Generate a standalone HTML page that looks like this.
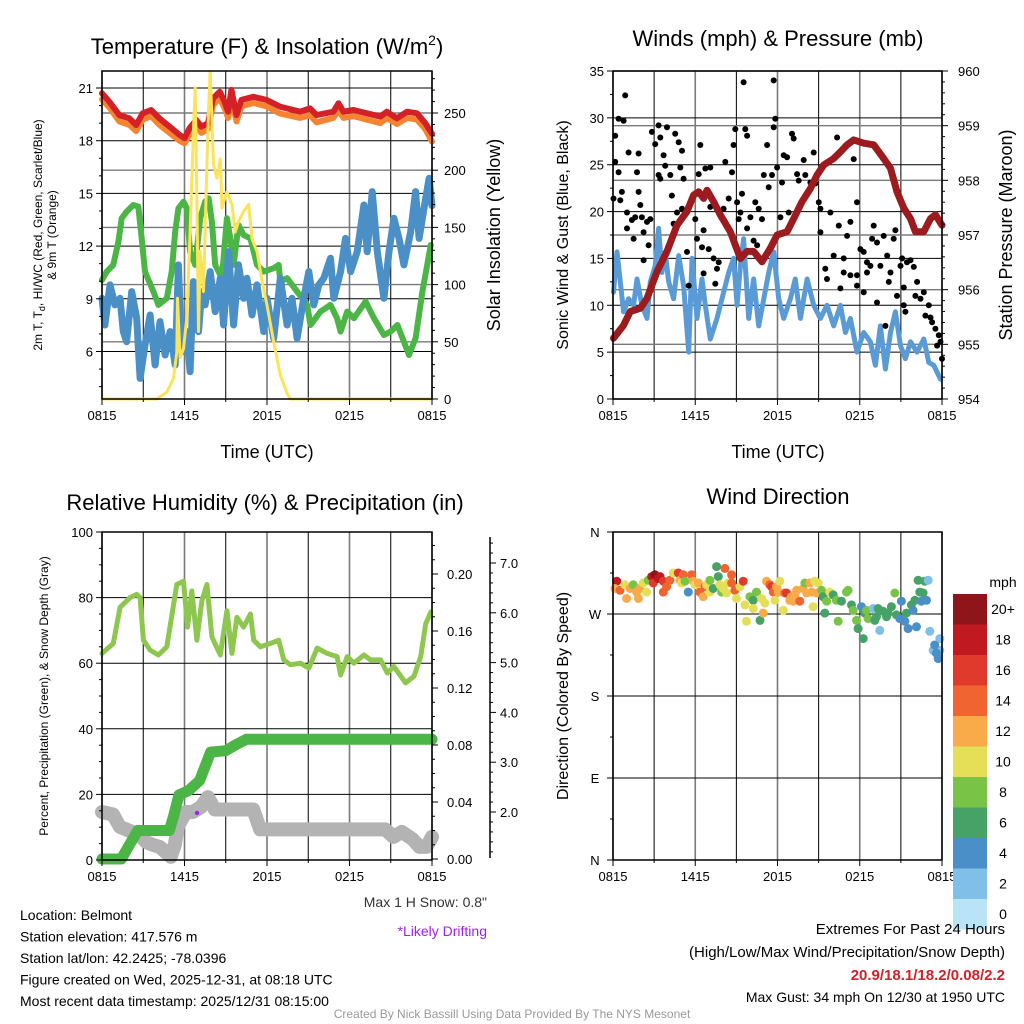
<!DOCTYPE html>
<html><head><meta charset="utf-8"><style>
html,body{margin:0;padding:0;background:#fff;}
svg{display:block;font-family:"Liberation Sans",sans-serif;}
</style></head><body>
<svg id="s" width="1024" height="1024" viewBox="0 0 1024 1024">
<rect width="1024" height="1024" fill="#fff"/>
<g id="g"></g>
</svg>
<script>
// ---------- Panel 1 data ----------
const tRedH=[0,0.53,1.26,1.99,2.48,2.96,3.57,4.18,4.91,5.64,6.0,6.37,6.86,7.22,7.71,8.07,8.56,8.92,9.17,9.41,9.78,10.14,11.0,11.97,12.94,14.4,15.13,15.61,16.83,17.2,17.56,18.29,19.26,20.24,20.72,21.45,22.18,22.91,23.52,24];
const tRed=[20.7,20.22,19.46,19.27,18.89,19.56,19.75,19.27,18.8,18.33,18.14,18.71,19.18,18.8,18.99,20.41,20.79,20.22,19.65,20.89,19.46,20.32,20.5,20.32,19.94,19.65,19.84,19.46,19.65,20.13,19.65,19.75,19.56,19.37,19.65,19.27,19.65,19.56,18.99,18.4];
const tOrange=[20.35,19.9,19.1,18.9,18.55,19.2,19.4,18.9,18.45,18.0,17.85,18.35,18.8,18.45,18.65,20.05,20.4,19.85,19.3,20.5,19.1,19.95,20.15,19.95,19.55,19.3,19.45,19.05,19.3,19.75,19.3,19.4,19.2,19.0,19.3,18.95,19.3,19.2,18.65,17.95];
const tGreenH=[0,0.34,0.82,1.19,1.43,1.79,2.28,2.64,2.89,3.13,3.74,4.1,4.71,5.07,5.32,5.56,5.93,6.17,6.41,6.78,7.14,7.5,7.75,7.99,8.23,8.72,9.08,9.33,9.57,9.93,10.3,10.79,11.27,11.76,12.49,12.85,12.97,13.46,14.19,14.92,15.16,15.89,16.62,17.1,17.35,17.83,18.32,19.17,19.78,20.5,20.99,21.48,21.96,22.33,22.81,23.3,23.91];
const tGreen=[10.07,10.55,10.93,12.25,13.58,13.96,14.34,14.25,12.44,10.55,9.41,8.65,9.03,10.55,12.82,14.15,14.53,14.15,11.68,10.93,13.58,14.53,14.72,13.39,10.93,10.17,13.58,12.44,10.93,13.2,12.63,12.44,10.93,10.55,10.74,10.93,9.98,10.17,9.41,8.65,7.51,8.27,8.65,7.89,7.13,8.27,7.89,8.84,7.89,6.94,7.13,7.51,6.56,5.8,6.75,9.41,12.06];
const tBlueH=[0,0.21,0.58,0.94,1.31,1.55,1.79,2.16,2.52,2.77,3.13,3.5,3.86,4.22,4.59,4.95,5.32,5.56,5.8,6.17,6.41,6.65,7.02,7.26,7.5,7.87,8.23,8.6,8.84,9.21,9.57,9.93,10.3,10.54,10.91,11.27,11.76,12.0,12.49,12.97,13.46,13.82,14.19,14.67,15.04,15.4,15.77,16.13,16.62,16.86,17.35,17.71,18.08,18.56,19.05,19.29,19.65,20.02,20.5,20.87,21.23,21.6,21.96,22.45,22.81,23.06,23.42,23.79,24];
const tBlue=[9.03,7.51,9.79,8.65,9.03,7.13,6.56,9.41,7.89,4.47,6.37,8.08,5.23,7.7,5.8,7.13,5.23,10.93,5.99,7.13,4.85,9.98,7.13,9.41,8.65,10.55,8.27,10.17,7.51,11.68,7.51,10.93,9.03,10.17,8.08,9.79,7.13,9.03,6.75,10.17,7.51,9.03,6.75,9.03,10.55,8.65,9.79,10.17,11.31,9.03,10.55,12.44,10.55,11.68,14.34,11.68,15.1,11.68,9.03,11.68,13.58,12.44,10.93,12.82,15.1,12.44,14.15,15.86,14.3];
const solarH=[0,3.98,4.71,5.2,5.44,5.49,5.68,5.93,6.17,6.41,6.65,6.78,6.9,7.02,7.14,7.38,7.63,7.75,7.87,8.11,8.36,8.6,8.72,9.08,9.45,9.69,9.93,10.3,10.66,10.91,11.27,11.64,12.0,12.49,12.97,13.46,13.7,24];
const solar=[0,0,6,18,41,88,36,44,71,146,234,272,175,59,129,94,205,254,286,205,193,210,167,181,170,146,155,164,170,140,129,103,82,50,21,5,0,0];
const timeTicks=["0815","1415","2015","0215","0815"];
const tempTicks=[6,9,12,15,18,21];
const solarTicks=[0,50,100,150,200,250];
// ---------- Panel 2 data ----------
const presH=[0.04,0.77,1.26,1.99,2.48,3.21,3.94,4.67,5.4,5.88,6.25,6.61,6.86,7.34,7.83,8.56,9.29,9.78,10.26,10.87,11.48,11.97,12.7,13.18,13.79,14.4,14.89,15.37,16.1,16.59,17.08,17.56,18.29,19.02,19.75,20.24,20.72,21.21,21.7,22.06,22.67,23.16,23.52,24];
const pres=[955.11,955.35,955.6,955.66,955.84,956.33,956.7,957.18,957.43,957.73,957.79,957.67,957.82,957.61,957.37,957.06,956.57,956.7,956.7,956.51,956.76,957.0,957.06,957.3,957.61,957.85,958.1,958.28,958.4,958.52,958.65,958.74,958.68,958.65,958.4,958.22,957.79,957.49,957.3,957.06,957.06,957.3,957.37,957.18];
const windH=[0.04,0.29,0.53,0.77,1.14,1.5,1.75,2.11,2.48,2.72,3.08,3.33,3.57,3.81,4.06,4.42,4.79,5.15,5.52,5.76,6.13,6.49,6.73,7.1,7.59,7.95,8.44,8.8,9.05,9.29,9.53,9.9,10.26,10.63,11.0,11.36,11.72,12.09,12.45,12.94,13.3,13.67,14.16,14.64,15.13,15.61,16.1,16.59,16.95,17.32,17.8,18.29,18.78,19.14,19.51,19.87,20.24,20.6,20.97,21.33,21.7,22.18,22.67,23.04,23.4,23.89];
const wind=[11.4,15.7,12.5,9.3,10.7,10.0,12.8,10.0,8.6,12.5,14.2,18.2,13.5,15.7,12.5,10.7,15.3,12.1,5.0,15.0,8.6,12.8,10.0,6.4,8.6,10.7,13.5,15.0,10.0,14.2,17.1,8.6,12.8,7.8,10.7,13.5,15.7,10.7,8.6,10.7,12.8,8.6,12.8,10.0,8.6,10.0,7.8,10.0,7.1,8.6,5.0,7.1,6.1,3.6,7.8,3.2,7.1,9.3,5.7,4.3,6.1,5.0,6.4,3.9,3.6,2.1];
const gustH=[0.04,0.16,0.41,0.16,0.41,0.77,0.89,1.14,0.65,0.53,1.02,1.02,1.38,1.5,1.62,1.87,1.99,1.87,1.75,2.11,2.23,2.48,2.72,2.23,2.6,2.84,3.08,3.33,3.45,3.69,3.81,3.94,4.18,4.3,4.54,4.79,4.91,5.03,3.45,3.33,4.67,4.42,5.15,5.03,5.4,5.52,5.64,6.0,6.13,6.37,6.25,6.73,7.1,6.61,6.98,6.49,6.61,7.1,7.34,7.59,7.71,7.46,8.07,8.19,8.44,8.68,8.8,8.92,9.05,9.29,9.17,9.53,9.65,9.78,9.41,9.78,10.02,10.26,10.38,10.51,10.63,10.87,11.0,11.24,11.36,11.6,11.72,11.84,11.72,11.97,12.21,12.33,12.45,12.7,12.82,13.06,13.18,13.43,13.55,13.91,14.03,14.4,14.64,14.76,15.01,15.13,15.49,15.86,16.1,16.35,16.47,16.59,16.83,17.08,17.32,17.56,17.8,18.05,18.29,18.53,18.78,18.9,19.02,19.26,19.51,19.75,20.0,20.12,20.24,20.48,20.6,20.72,20.97,21.09,21.21,21.45,21.7,21.94,22.06,22.18,22.43,22.67,22.79,23.04,23.16,23.28,23.52,23.64,23.77,23.89,24.0,19.87,21.21,21.33,17.32,17.8,18.53,15.61,16.83,18.29,19.26,15.13,17.8];
const gust=[21.4,28.1,29.9,25.3,24.2,29.7,32.4,26.3,22.1,21.2,19.9,18.2,19.1,17.1,19.4,22.1,20.7,26.2,24.2,19.4,17.8,18.9,19.2,14.8,16.4,28.5,27.2,29.2,27.9,26.0,24.9,29.0,23.9,21.7,28.3,27.4,24.7,26.5,23.5,23.9,19.9,18.7,23.5,20.3,15.7,12.1,21.0,19.2,17.1,27.1,24.0,24.6,24.7,18.0,16.0,16.2,13.4,20.5,15.0,13.9,14.6,12.3,20.3,25.3,21.4,24.2,27.1,28.8,21.0,19.9,19.2,33.8,28.8,28.1,21.9,18.2,19.4,16.9,21.0,16.4,20.3,19.2,23.9,27.1,22.6,23.9,29.0,29.9,34.0,24.7,19.4,23.1,26.0,25.8,19.9,28.3,27.8,24.0,23.3,25.5,23.9,23.1,26.3,23.0,21.0,20.3,13.9,19.9,15.3,27.9,18.5,11.8,15.0,17.4,18.9,25.6,21.0,16.0,15.7,14.6,14.2,17.1,18.5,16.7,14.2,17.4,15.3,12.5,13.5,17.1,18.0,11.0,14.2,15.0,11.9,14.6,14.8,14.1,11.0,12.5,10.7,11.4,8.9,10.0,8.7,8.2,7.5,5.7,6.8,6.1,4.3,7.8,10.0,9.3,13.2,13.2,13.5,12.8,13.5,11.4,10.3,17.8,12.1];
const windTicks=[0,5,10,15,20,25,30,35];
const presTicks=[954,955,956,957,958,959,960];
// ---------- Panel 3 data ----------
const rhH=[0,0.82,1.31,2.04,2.52,2.77,3.01,3.5,4.1,4.71,5.44,5.93,6.22,6.53,6.9,7.26,7.63,7.99,8.6,9.08,9.45,9.81,10.3,10.79,11.03,11.51,12.24,12.85,13.22,13.7,14.43,15.04,15.65,16.37,17.1,17.35,17.83,18.32,19.05,19.53,20.26,20.75,21.23,22.08,22.69,23.18,23.54,23.91];
const rh=[63,66,77,80,81,80,67,64,62.5,65,84,85,71,82,67,79,84,68,62.5,76,63,74,71,75,67,65,66,67,61,59.5,60,58.5,64.6,63,62,56.4,62,60,62.5,61,61,57,59,54,56,62,72,75.6];
const precipH=[0,1.4,2.0,2.6,4.9,5.2,5.6,6.3,7.1,7.5,7.9,9.0,9.7,10.5,24];
const precip=[0,0,0.01,0.02,0.02,0.03,0.045,0.048,0.055,0.065,0.075,0.076,0.08,0.084,0.084];
const snowH=[0,0.8,1.3,2.2,2.7,3.2,3.6,4.2,5.0,5.3,5.5,6.1,6.6,7.2,7.7,8.2,11.0,11.5,20.6,21.2,21.8,22.6,23.1,23.6,24.0];
const snow=[2.0,1.95,1.7,1.6,1.55,1.4,1.35,1.3,1.1,1.35,1.7,2.0,2.0,2.1,2.3,2.05,2.05,1.65,1.65,1.5,1.6,1.45,1.3,1.3,1.5];
const rhTicks=[0,20,40,60,80,100];
const precipTicks=["0.00","0.04","0.08","0.12","0.16","0.20"];
const snowTicks=["2.0","3.0","4.0","5.0","6.0","7.0"];
// ---------- Panel 4 data ----------
const dirH=[0.27,0.14,0.51,0.87,0.99,1.24,1.48,1.72,1.85,1.97,2.21,2.45,2.57,2.82,2.94,3.06,3.3,3.43,3.67,3.67,3.91,4.15,4.4,4.76,4.88,5.0,5.13,5.25,5.49,5.73,5.86,5.98,6.22,6.34,6.58,6.71,6.83,7.07,7.07,7.31,7.56,7.68,7.8,7.92,8.04,8.16,8.29,8.41,8.65,8.65,8.89,9.01,9.26,9.5,9.62,9.74,9.99,10.23,10.23,10.47,10.72,10.84,10.96,11.08,11.2,11.44,11.57,11.69,11.81,11.93,12.05,12.17,12.42,12.54,12.66,12.9,13.02,13.15,13.27,13.39,13.63,13.87,14.0,14.12,14.36,14.48,14.6,14.72,14.85,14.97,15.21,15.33,15.45,15.58,15.82,16.06,16.3,16.43,16.67,17.03,17.15,17.4,17.52,17.76,17.88,18.13,18.25,18.37,18.49,18.61,18.98,19.1,19.22,19.34,19.46,19.71,19.95,20.07,20.31,20.56,20.68,20.92,21.04,21.29,21.41,21.53,21.77,21.89,22.02,22.14,22.26,22.38,22.5,22.62,22.74,22.87,22.99,23.11,23.35,23.84,23.84,23.72,23.47,23.59];
const dirDeg=[306,298,296,302,287,298,302,294,287,298,304,294,307,311,304,313,309,311,306,294,300,307,315,315,307,304,313,306,294,313,306,302,304,294,289,300,302,307,294,298,322,311,302,294,298,320,293,304,313,304,296,287,300,306,280,262,289,285,276,294,263,287,271,282,306,302,300,294,285,300,294,306,274,293,293,285,289,284,291,296,284,298,304,293,304,294,278,306,293,304,296,289,271,284,294,291,285,262,284,294,296,280,274,263,254,278,243,271,274,265,276,263,267,276,252,273,267,271,278,293,269,265,284,262,271,254,280,274,285,256,307,294,284,293,306,285,307,251,230,243,230,221,236,227];
const dirSpd=[18,12,14,10,12,12,8,12,12,12,10,10,8,18,16,20,18,18,16,14,14,14,10,16,12,10,14,8,4,14,12,10,12,14,12,14,10,8,10,6,6,6,10,8,10,14,10,10,14,14,14,10,10,16,10,10,8,6,10,8,6,10,12,10,12,14,16,14,10,12,12,10,10,14,16,12,12,12,12,12,14,12,8,12,12,12,10,10,12,10,8,6,6,8,10,6,8,8,6,8,8,6,8,8,6,4,6,6,8,8,2,6,6,6,2,6,6,6,6,8,6,4,4,4,6,4,6,4,6,4,6,6,4,6,6,4,2,2,2,2,2,4,4,4];
const dirTicks=["N","E","S","W","N"];
const cbLabels=["20+","18","16","14","12","10","8","6","4","2","0"];
const cbColors=["#8e1519","#c0191f","#df3a2c","#f06431","#f9aa49","#e5df57","#79c447","#47a267","#4b8fc9","#80bfe7","#b9e3f7"];

// ---------- drawing helpers ----------
const NS="http://www.w3.org/2000/svg";
const G=document.getElementById('g');
function el(tag,attrs,parent){const e=document.createElementNS(NS,tag);for(const k in attrs)e.setAttribute(k,attrs[k]);(parent||G).appendChild(e);return e;}
function txt(x,y,s,size,opts){opts=opts||{};const t=el('text',{x:x,y:y,'font-size':size,'text-anchor':opts.anchor||'middle',fill:opts.fill||'#000'});if(opts.weight)t.setAttribute('font-weight',opts.weight);if(opts.rot!==undefined)t.setAttribute('transform','rotate('+opts.rot+' '+x+' '+y+')');t.textContent=s;return t;}
function lin(x1,y1,x2,y2,c,w){return el('line',{x1:x1,y1:y1,x2:x2,y2:y2,stroke:c,'stroke-width':w});}
function path(xs,ys,fx,fy,c,w,name){let d='';for(let i=0;i<xs.length;i++)d+=(i?'L':'M')+fx(xs[i]).toFixed(1)+','+fy(ys[i]).toFixed(1);const p=el('path',{d:d,fill:'none',stroke:c,'stroke-width':w,'stroke-linejoin':'round','stroke-linecap':'round'});return p;}
function scale(d0,d1,r0,r1){return v=>r0+(v-d0)/(d1-d0)*(r1-r0);}

function frame(x0,y0,x1,y1){
  // vertical grid every 3h; labeled ones gray
  for(let i=0;i<=8;i++){const x=x0+(x1-x0)*i/8;lin(x,y0,x,y1,i%2===0?'#7a7a7a':'#000',i%2===0?1.6:1);}
}
function xAxis(x0,x1,y1,nameBase){
  for(let i=0;i<=8;i++){const x=x0+(x1-x0)*i/8;lin(x,y1,x,y1+(i%2===0?6:3),'#000',1);}
  timeTicks.forEach((t,i)=>{const x=x0+(x1-x0)*i/4;const e=txt(x,y1+21,t,13);});
}
function box(x0,y0,x1,y1,name){const r=el('rect',{x:x0,y:y0,width:x1-x0,height:y1-y0,fill:'none',stroke:'#000','stroke-width':1.5});}

// =============== PANEL 1 ===============
{
const X0=102,X1=432,Y0=71,Y1=399;
const fx=scale(0,24,X0,X1), fy=scale(21,18,88,140.7), fs=scale(0,250,399,113);
frame(X0,Y0,X1,Y1);
tempTicks.forEach(v=>lin(X0,fy(v),X1,fy(v),'#000',1));
solarTicks.forEach(v=>{if(v>0)lin(X0,fs(v),X1,fs(v),'#7a7a7a',1.4);});
path(tRedH,tOrange,fx,fy,'#f58430',6,'9m-temp-orange-line');
path(tRedH,tRed,fx,fy,'#d42027',6,'2m-temp-red-line');
path(tGreenH,tGreen,fx,fy,'#4bb545',6,'dewpoint-green-line');
path(tBlueH,tBlue,fx,fy,'#4a8fc6',7,'wind-chill-blue-line');
path(solarH,solar,fx,fy=>0,'#fbe25a',3,'x').remove();
path(solarH,solar,fx,fs,'#fde35a',3,'solar-insolation-line');
box(X0,Y0,X1,Y1,'temperature-plot-area');
// left ticks
for(let v=4;v<=21.9;v+=1){const y=fy(v);if(y<Y0||y>Y1)continue;const maj=tempTicks.includes(v);lin(X0,y,X0-(maj?6:3),y,'#000',1);}
tempTicks.forEach(v=>{const e=txt(X0-9,fy(v)+5,String(v),13,{anchor:'end'});});
for(let v=0;v<=280;v+=10){const y=fs(v);if(y<Y0)continue;const maj=v%50===0;lin(X1,y,X1+(maj?6:3),y,'#000',1);}
solarTicks.forEach(v=>{const e=txt(X1+12,fs(v)+5,String(v),13,{anchor:'start'});});
xAxis(X0,X1,Y1,'p1-time');
const t=el('text',{x:267,y:54,'font-size':22,'text-anchor':'middle'});
t.innerHTML='Temperature (F) &amp; Insolation (W/m<tspan font-size="14" dy="-9">2</tspan><tspan dy="9">)</tspan>';
let e=txt(267,458,'Time (UTC)',18);
e=el('text',{x:42,y:235,'font-size':12,'text-anchor':'middle',transform:'rotate(-90 42 235)'});e.innerHTML='2m T, T<tspan font-size="9" dy="3">d</tspan><tspan dy="-3">, HI/WC (Red, Green, Scarlet/Blue)</tspan>';

e=txt(56,235,'& 9m T (Orange)',12,{rot:-90});
e=txt(500,235,'Solar Insolation (Yellow)',18,{rot:-90});
}
// =============== PANEL 2 ===============
{
const X0=613,X1=942,Y0=71,Y1=399;
const fx=scale(0,24,X0,X1), fy=scale(0,35,Y1,Y0), fp=scale(954,960,Y1,Y0);
frame(X0,Y0,X1,Y1);
windTicks.forEach(v=>lin(X0,fy(v),X1,fy(v),'#000',1));
presTicks.forEach(v=>lin(X0,fp(v),X1,fp(v),'#7a7a7a',1.4));
path(windH,wind,fx,fy,'#5a9bd5',5,'sonic-wind-blue-line');
for(let i=0;i<gust.length;i++){const c=el('circle',{cx:fx(gustH[i]).toFixed(1),cy:fy(gust[i]).toFixed(1),r:3,fill:'#000'});

}
path(presH,pres,fx,fp,'#9b1b1e',7,'station-pressure-maroon-line');
box(X0,Y0,X1,Y1,'winds-plot-area');
for(let v=0;v<=35;v+=2.5){const maj=v%5===0;lin(X0,fy(v),X0-(maj?6:3),fy(v),'#000',1);}
windTicks.forEach(v=>{const e=txt(X0-9,fy(v)+5,String(v),13,{anchor:'end'});});
for(let v=954;v<=960.001;v+=0.2){const maj=Math.abs(v-Math.round(v))<0.01;lin(X1,fp(v),X1+(maj?6:3),fp(v),'#000',1);}
presTicks.forEach(v=>{const e=txt(X1+16,fp(v)+5,String(v),13,{anchor:'start'});});
xAxis(X0,X1,Y1,'p2-time');
let e=txt(778,46,'Winds (mph) & Pressure (mb)',22);
e=txt(778,458,'Time (UTC)',18);
e=txt(568,235,'Sonic Wind & Gust (Blue, Black)',16,{rot:-90});
e=txt(1012,235,'Station Pressure (Maroon)',18,{rot:-90});
}
// =============== PANEL 3 ===============
{
const X0=102,X1=432,Y0=532,Y1=860;
const fx=scale(0,24,X0,X1), fy=scale(0,100,Y1,Y0), fpr=scale(0,0.04,859,802), fsn=scale(2,7,812,563);
frame(X0,Y0,X1,Y1);
rhTicks.forEach(v=>lin(X0,fy(v),X1,fy(v),'#000',1));
path(snowH,snow,fx,fsn,'#b3b3b3',14,'snow-depth-gray-line');
path(precipH,precip,fx,fpr,'#4bb545',11,'precipitation-green-line');
path(rhH,rh,fx,fy,'#8dc74f',5,'relative-humidity-line');
const pd=el('circle',{cx:197,cy:813,r:2.2,fill:'#a020f0'});
box(X0,Y0,X1,Y1,'humidity-plot-area');
for(let v=0;v<=100;v+=5){const maj=v%20===0;lin(X0,fy(v),X0-(maj?6:3),fy(v),'#000',1);}
rhTicks.forEach(v=>{const e=txt(X0-9,fy(v)+5,String(v),13,{anchor:'end'});});
for(let i=0;i<=22;i++){const v=i*0.01;const y=fpr(v);if(y<Y0)continue;lin(X1,y,X1+(i%4===0?6:3),y,'#000',1);}
precipTicks.forEach(s=>{const e=txt(X1+15,fpr(parseFloat(s))+5,s,13,{anchor:'start'});});
lin(490,537,490,858,'#000',1.5);
for(let v=0.8;v<=7.5;v+=0.2){const y=fsn(v);if(y<537||y>858)continue;const maj=Math.abs(v-Math.round(v))<0.01;lin(490,y,490+(maj?6:3),y,'#000',1);}
snowTicks.forEach(s=>{const e=txt(500,fsn(parseFloat(s))+5,s,13,{anchor:'start'});});
xAxis(X0,X1,Y1,'p3-time');
let e=txt(265,510,'Relative Humidity (%) & Precipitation (in)',22);
e=txt(48,696,'Percent, Precipitation (Green), & Snow Depth (Gray)',12,{rot:-90});
e=txt(487,907,'Max 1 H Snow: 0.8"',14,{anchor:'end',fill:'#333'});
e=txt(487,936,'*Likely Drifting',14,{anchor:'end',fill:'#a020f0'});
}
// =============== PANEL 4 ===============
{
const X0=613,X1=942,Y0=532,Y1=860;
const fx=scale(0,24,X0,X1), fy=scale(0,360,Y1,Y0);
frame(X0,Y0,X1,Y1);
for(let i=0;i<=4;i++)lin(X0,fy(i*90),X1,fy(i*90),'#000',1);
const binIdx=s=>Math.max(0,Math.min(10,10-Math.round(s/2)));
for(let i=0;i<dirDeg.length;i++){const c=el('circle',{cx:fx(dirH[i]).toFixed(1),cy:fy(dirDeg[i]).toFixed(1),r:4.5,fill:cbColors[binIdx(dirSpd[i])]});

}
box(X0,Y0,X1,Y1,'wind-direction-plot-area');
for(let i=0;i<=8;i++){const y=fy(i*45);lin(X0,y,X0-(i%2===0?6:3),y,'#000',1);}
dirTicks.forEach((s,i)=>{const e=txt(X0-18,fy(i*90)+5,s,13,{anchor:'middle'});});
xAxis(X0,X1,Y1,'p4-time');
let e=txt(778,504,'Wind Direction',22);
e=txt(568,696,'Direction (Colored By Speed)',16,{rot:-90});
// colorbar
e=txt(1003,587,'mph',14);
cbColors.forEach((c,i)=>{const r=el('rect',{x:953,y:594+i*30.5,width:34,height:30.5,fill:c});


const t=txt(1003,594+i*30.5+20,cbLabels[i],14);});
}
// =============== FOOTER TEXT ===============
{
const left=["Location: Belmont","Station elevation: 417.576 m","Station lat/lon: 42.2425; -78.0396","Figure created on Wed, 2025-12-31, at 08:18 UTC","Most recent data timestamp: 2025/12/31 08:15:00"];
left.forEach((s,i)=>{const e=txt(20,920+i*21.5,s,14,{anchor:'start'});});
let e=txt(1005,934,'Extremes For Past 24 Hours',15,{anchor:'end'});
e=txt(1005,957,'(High/Low/Max Wind/Precipitation/Snow Depth)',15,{anchor:'end'});
e=txt(1005,980,'20.9/18.1/18.2/0.08/2.2',15,{anchor:'end',fill:'#d42027',weight:'bold'});
e=txt(1005,1002,'Max Gust: 34 mph On 12/30 at 1950 UTC',14,{anchor:'end'});
e=txt(512,1018,'Created By Nick Bassill Using Data Provided By The NYS Mesonet',12,{fill:'#999'});
}
</script>
</body></html>
